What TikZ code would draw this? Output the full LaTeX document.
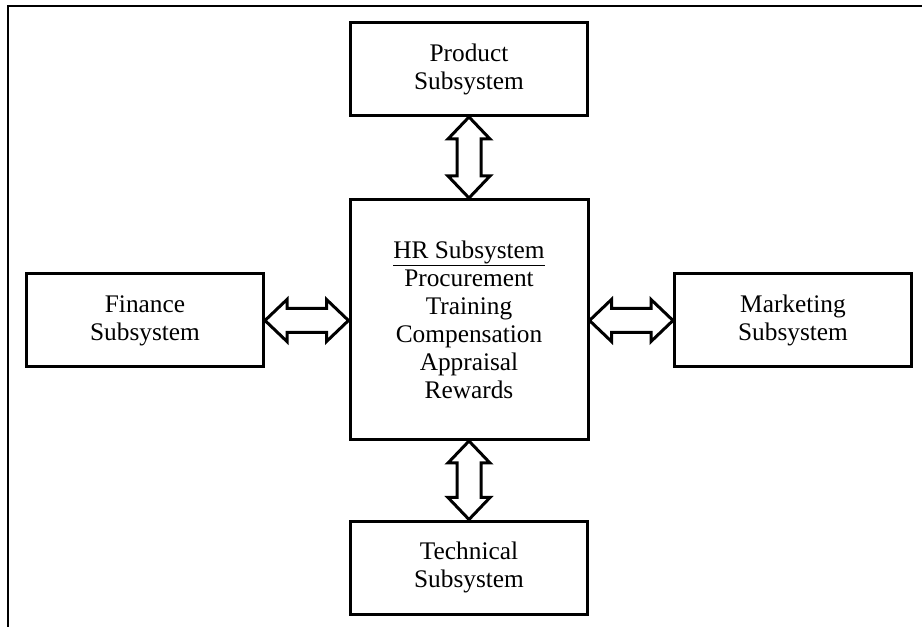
\documentclass[tikz,border=0pt]{standalone}
\usepackage{fontspec}
\setmainfont{Liberation Serif}
\usetikzlibrary{calc}
\tikzset{
  box/.style={draw, line width=2.25pt, inner sep=0pt, align=center,
    font=\fontsize{19}{21}\selectfont,
    minimum width=177.75pt, minimum height=69.75pt},
  hrbox/.style={box, minimum width=178.5pt, minimum height=180pt},
  dbl/.style={draw, line width=2.25pt, line join=miter},
  vdbl/.style={to path={(\tikztostart) -- ++(21,22) -- ++(-9,0)
      -- ($(\tikztotarget)+(12,-22)$) -- ++(9,0) -- (\tikztotarget)
      -- ++(-21,-22) -- ++(9,0) -- ($(\tikztostart)+(-12,22)$) -- ++(-9,0) -- cycle}},
  hdbl/.style={to path={(\tikztostart) -- ++(22,-21) -- ++(0,9)
      -- ($(\tikztotarget)+(-22,-12)$) -- ++(0,-9) -- (\tikztotarget)
      -- ++(-22,21) -- ++(0,-9) -- ($(\tikztostart)+(22,12)$) -- ++(0,9) -- cycle}},
  frame/.style={draw, line width=1.5pt}
}
\begin{document}
\begin{tikzpicture}[x=0.75pt,y=-0.75pt]
\useasboundingbox (0,0) rectangle (922,627);
\coordinate (ftr) at (922,6);
\coordinate (ftl) at (8,6);
\coordinate (fbl) at (8,627);
\draw[frame] (ftr) -- (ftl) -- (fbl);

\node[box] (prod) at (469,69) {Product\\Subsystem};
\node[hrbox] (hr) at (469,319.5) {\underline{HR Subsystem}\\Procurement\\Training\\Compensation\\Appraisal\\Rewards};
\node[box] (tech) at (469,567.5) {Technical\\Subsystem};
\node[box] (fin) at (145,320.5) {Finance\\Subsystem};
\node[box] (mkt) at (793,320.5) {Marketing\\Subsystem};

\draw[dbl] (prod.south) to[vdbl] (hr.north);
\draw[dbl] (hr.south) to[vdbl] (tech.north);
\draw[dbl] (fin.east) to[hdbl] (fin.east -| hr.west);
\draw[dbl] (hr.east |- mkt.west) to[hdbl] (mkt.west);
\end{tikzpicture}
\end{document}
